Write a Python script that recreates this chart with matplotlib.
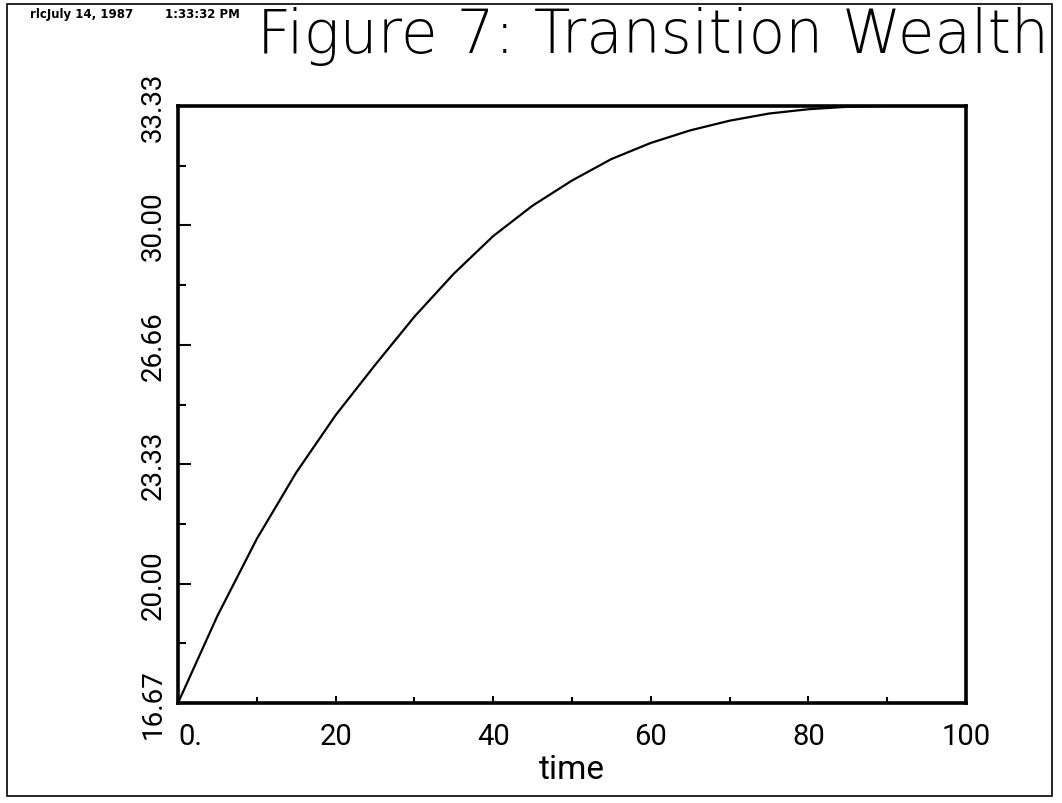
import matplotlib
matplotlib.use("Agg")
import matplotlib.pyplot as plt
from matplotlib.patches import Rectangle
from matplotlib.ticker import MultipleLocator, FixedLocator, FixedFormatter

# transition path of wealth over time
time = [0, 5, 10, 15, 20, 25, 30, 35, 40, 45, 50,
        55, 60, 65, 70, 75, 80, 85, 90, 95, 100]
wealth = [16.67, 19.10, 21.25, 23.10, 24.70, 26.10, 27.45, 28.65, 29.70, 30.55, 31.25,
          31.85, 32.30, 32.65, 32.92, 33.12, 33.24, 33.31, 33.33, 33.33, 33.33]

y_ticks = [16.67, 20.00, 23.33, 26.66, 30.00, 33.33]
y_labels = ["16.67", "20.00", "23.33", "26.66", "30.00", "33.33"]
x_ticks = [0, 20, 40, 60, 80, 100]
x_labels = ["0.", "20", "40", "60", "80", "100"]

TICK_FONT = ["Roboto", "DejaVu Sans"]

fig = plt.figure(figsize=(10.62, 8.04), dpi=100)
ax = fig.add_axes([0.1676, 0.1244, 0.742, 0.7425])

ax.plot(time, wealth, color="black", linewidth=1.6)

ax.set_xlim(0, 100)
ax.set_ylim(16.67, 33.33)

ax.xaxis.set_major_locator(FixedLocator(x_ticks))
ax.xaxis.set_major_formatter(FixedFormatter(x_labels))
ax.xaxis.set_minor_locator(MultipleLocator(10))
ax.yaxis.set_major_locator(FixedLocator(y_ticks))
ax.yaxis.set_major_formatter(FixedFormatter(y_labels))
ax.yaxis.set_minor_locator(FixedLocator([18.335, 21.665, 24.995, 28.33, 31.665]))

ax.tick_params(axis="both", which="both", direction="in", color="black",
               top=False, right=False)
ax.tick_params(axis="x", which="major", length=5, width=1.5, pad=14)
ax.tick_params(axis="x", which="minor", length=4, width=1.5)
ax.tick_params(axis="y", which="major", length=9, width=1.5, pad=8)
ax.tick_params(axis="y", which="minor", length=6, width=1.5)

for lab in ax.get_xticklabels():
    lab.set_fontfamily(TICK_FONT)
    lab.set_fontsize(21)
for lab in ax.get_yticklabels():
    lab.set_fontfamily(TICK_FONT)
    lab.set_fontsize(20)
    lab.set_rotation(90)
    lab.set_verticalalignment("center")
ax.get_xticklabels()[0].set_horizontalalignment("left")

for side in ax.spines.values():
    side.set_linewidth(2.6)

ax.set_xlabel("time", fontsize=24, family=TICK_FONT, labelpad=2)

fig.text(0.615, 0.955, "Figure 7: Transition Wealth", fontsize=43,
         fontweight="light", ha="center", va="center")
fig.text(0.028, 0.982, "rlcJuly 14, 1987", fontsize=8.5, fontweight="bold",
         ha="left", va="center")
fig.text(0.155, 0.982, "1:33:32 PM", fontsize=8.5, fontweight="bold",
         ha="left", va="center")

# page frame
fig.patches.append(Rectangle((0.007, 0.009), 0.984, 0.985, transform=fig.transFigure,
                             fill=False, edgecolor="black", linewidth=1.2))

fig.savefig("out.png", dpi=100, facecolor="white")
